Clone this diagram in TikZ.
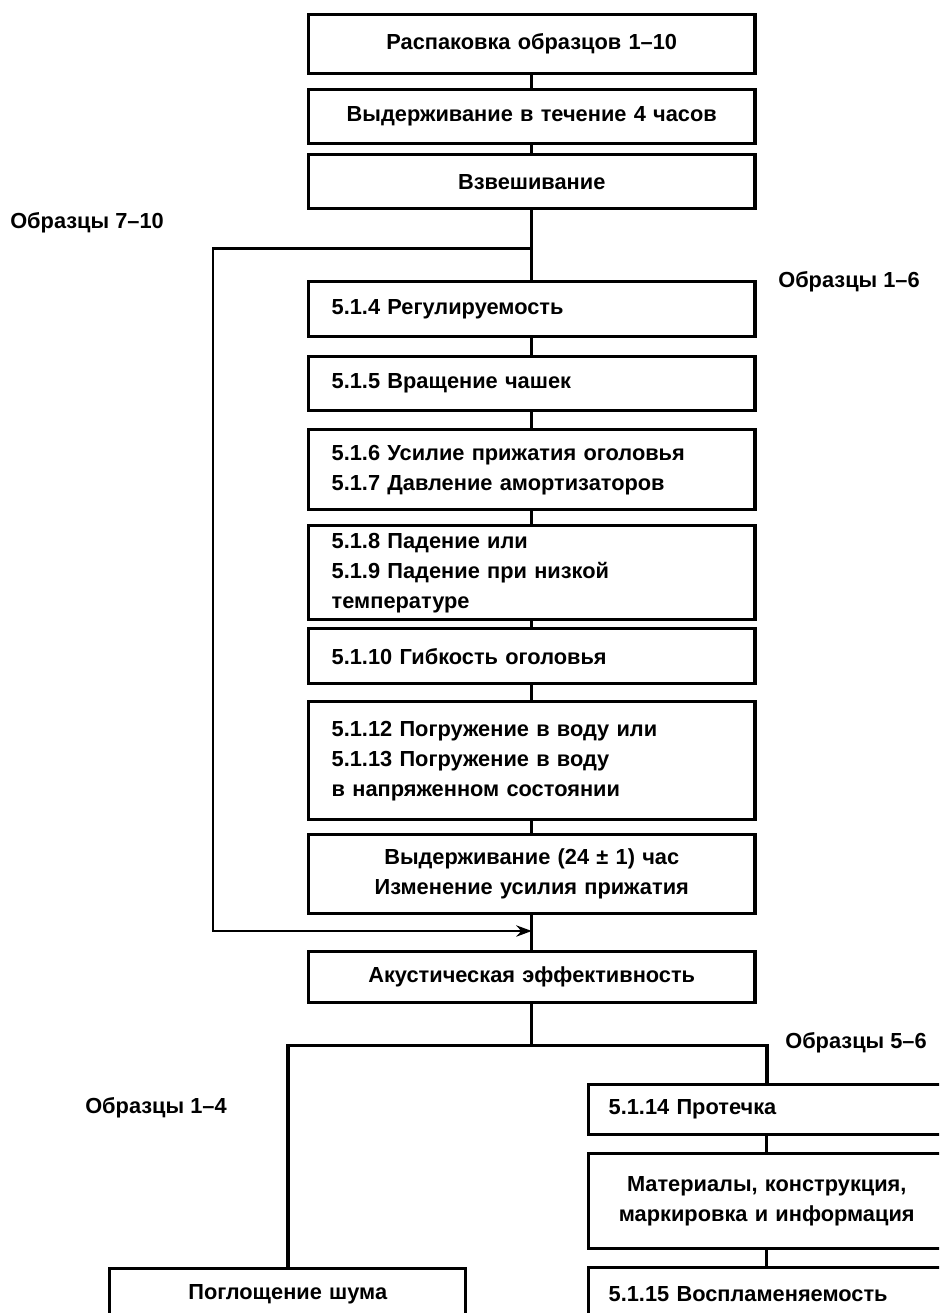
\documentclass[tikz,border=0pt]{standalone}
\usepackage{fontspec}
\setmainfont{Liberation Sans}
\usetikzlibrary{arrows.meta}

\tikzset{
  stage/.style={draw, line width=2.4pt, anchor=north west, align=left,
    text width=10cm, inner xsep=0.575cm, inner ysep=2pt,
    font=\bfseries\fontsize{15.5}{21.3}\selectfont},
  stagec/.style={stage, align=center},
  side/.style={stage, text width=7.9cm, inner xsep=0.5cm},
  sidec/.style={side, align=center},
  note/.style={anchor=west, inner sep=0pt, font=\bfseries\fontsize{15.5}{21.3}\selectfont},
  link/.style={line width=2pt},
}

\begin{document}
\begin{tikzpicture}[x=0.025cm, y=-0.025cm]
    \useasboundingbox (0,0) rectangle (939,1313);
    \clip (0,0) rectangle (939,1313);
    \node[stagec, minimum height=1.475cm] (b1) at (307,13) {Распаковка образцов 1–10};
    \node[stagec, minimum height=1.35cm] (b2) at (307,88) {Выдерживание в течение 4 часов};
    \node[stagec, minimum height=1.35cm] (b3) at (307,153) {Взвешивание};
    \node[stage, minimum height=1.375cm] (b4) at (307,280) {5.1.4 Регулируемость};
    \node[stage, minimum height=1.35cm] (b5) at (307,355) {5.1.5 Вращение чашек};
    \node[stage, minimum height=2cm] (b6) at (307,428) {5.1.6 Усилие прижатия оголовья\\5.1.7 Давление амортизаторов};
    \node[stage, minimum height=2.35cm] (b7) at (307,524) {5.1.8 Падение или\\5.1.9 Падение при низкой\\температуре};
    \node[stage, minimum height=1.375cm] (b8) at (307,627) {5.1.10 Гибкость оголовья};
    \node[stage, minimum height=2.95cm] (b9) at (307,700) {5.1.12 Погружение в воду или\\5.1.13 Погружение в воду\\в напряженном состоянии};
    \node[stagec, minimum height=1.975cm] (b10) at (307,833) {Выдерживание (24 ± 1) час\\Изменение усилия прижатия};
    \node[stagec, minimum height=1.275cm] (b11) at (307,950) {Акустическая эффективность};
    \node[side, minimum height=1.25cm] (leak) at (587,1083) {5.1.14 Протечка};
    \node[sidec, minimum height=2.375cm] (mat) at (587,1152) {Материалы, конструкция,\\маркировка и информация};
    \node[side, minimum height=1.3cm] (flam) at (587,1266) {5.1.15 Воспламеняемость};
    \node[sidec, minimum height=1.3cm] (noise) at (108,1267) {Поглощение шума};
    \node[note] (s710) at (10,223) {Образцы 7–10};
    \node[note] (s16) at (778,282) {Образцы 1–6};
    \node[note] (s56) at (785,1043) {Образцы 5–6};
    \node[note] (s14) at (85,1108) {Образцы 1–4};
    \coordinate (fork) at ([yshift=-0.95cm]b3.south);
    \coordinate (bypass) at (213,931);
    \coordinate (merge) at (bypass -| b10.south);
    \coordinate (split) at ([yshift=-1.025cm]b11.south);
    \draw[link] (b1) -- (b2) -- (b3) -- (b4) -- (b5) -- (b6) -- (b7) -- (b8) -- (b9) -- (b10) -- (b11);
    \draw[link] (b11.south) -- (split);
    \draw[link, -{Stealth[length=11pt, width=8pt]}] (fork) -| (bypass) -- (merge);
    \draw[link, line width=2.6pt] (noise) |- (split) -| (leak);
    \draw[link] (leak) -- (mat) -- (flam);
  \end{tikzpicture}
\end{document}
